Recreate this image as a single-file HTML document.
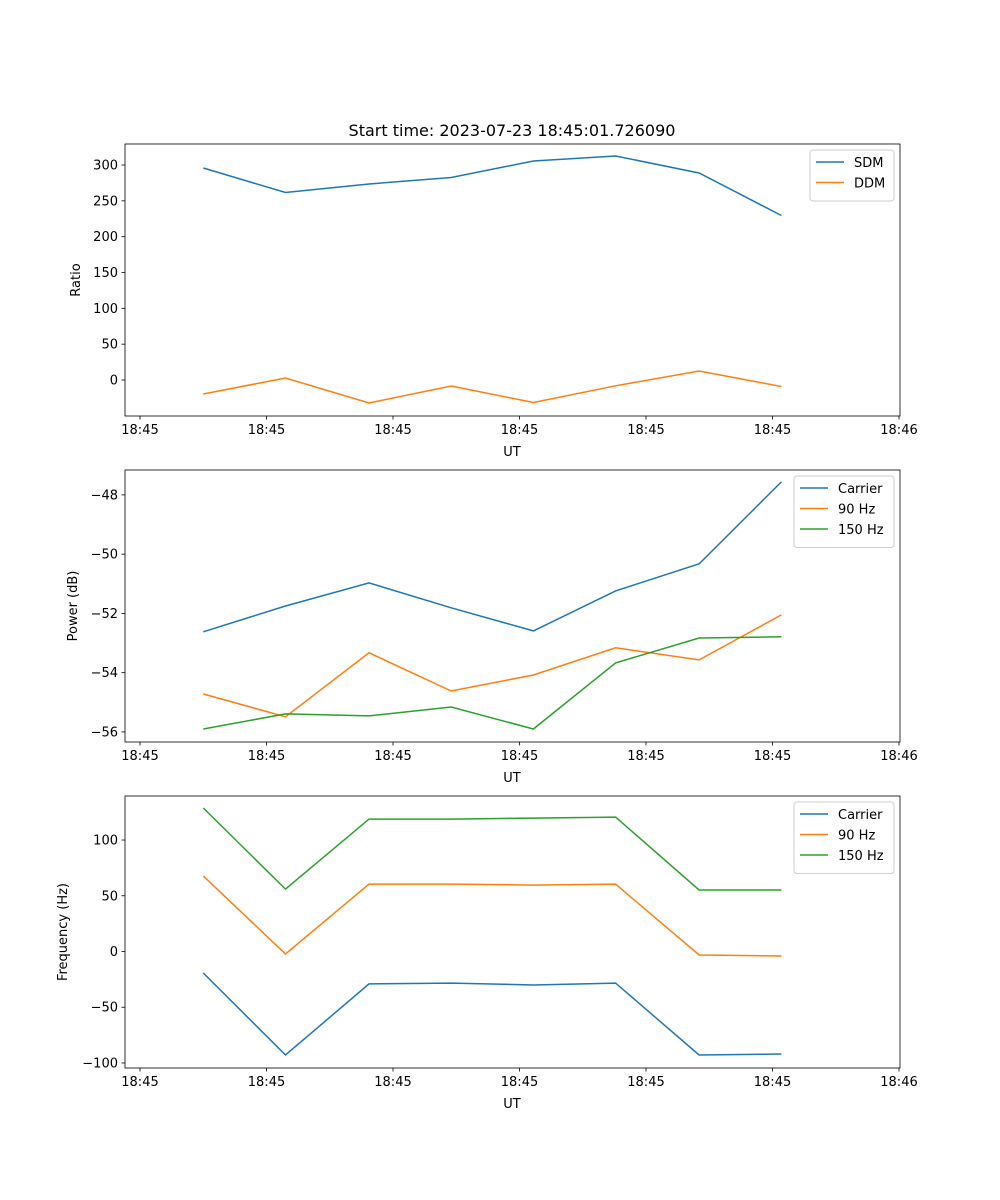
<!DOCTYPE html>
<html><head><meta charset="utf-8"><style>
body{margin:0;background:#fff}
svg{display:block;font-family:"DejaVu Sans","Liberation Sans",sans-serif}
</style></head><body>
<svg id="fig" width="1000" height="1200" viewBox="0 0 1000 1200"></svg>
<script>
const times=[5.0,11.5,18.1,24.6,31.1,37.6,44.2,50.7];
const xTicks=[0,10,20,30,40,50,60];
const xTickLabels=["18:45","18:45","18:45","18:45","18:45","18:45","18:46"];
const sdm=[295.8,261.6,273.5,282.6,305.6,312.6,288.8,229.5];
const ddm=[-19.5,2.8,-32,-8.4,-31.4,-8,12.6,-9];
const pCarrier=[-52.62,-51.75,-50.97,-51.81,-52.59,-51.24,-50.33,-47.56];
const p90=[-54.72,-55.49,-53.33,-54.62,-54.08,-53.16,-53.57,-52.05];
const p150=[-55.9,-55.39,-55.46,-55.16,-55.9,-53.67,-52.83,-52.79];
const fCarrier=[-19.3,-92.8,-29.1,-28.3,-30,-28.3,-92.8,-91.9];
const f90=[67.7,-2.2,60.5,60.5,59.6,60.5,-3.1,-4];
const f150=[128.7,56,118.8,118.8,119.7,120.6,55.2,55.2];
const ratioTicks=[0,50,100,150,200,250,300];
const powerTicks=[-56,-54,-52,-50,-48];
const powerTickLabels=["\u221256","\u221254","\u221252","\u221250","\u221248"];
const freqTicks=[-100,-50,0,50,100];
const freqTickLabels=["\u2212100","\u221250","0","50","100"];
const C=["#1f77b4","#ff7f0e","#2ca02c"];
const NS="http://www.w3.org/2000/svg";
const svg=document.getElementById("fig");
function el(t,a,p){const e=document.createElementNS(NS,t);for(const k in a)e.setAttribute(k,a[k]);(p||svg).appendChild(e);return e;}
const L=125,R=900;
function xs(t){return 140+(t-0)*(899-140)/60;}
function panel(name,top,bot,y0,y1,ticks,tlabels,ylabel,series,names,legend,title){
  const g=el("g",{});
  
  
  const ys=v=>top+(y1-v)*(bot-top)/(y1-y0);
  series.forEach((s,i)=>{
    const pl=el("polyline",{points:s.map((v,j)=>xs(times[j]).toFixed(1)+","+ys(v).toFixed(1)).join(" "),fill:"none",stroke:C[i],"stroke-width":1.5},g);
    
    
  });
  const fr=el("rect",{x:L,y:top,width:R-L,height:bot-top,fill:"none",stroke:"#000","stroke-width":0.8},g);
  
  
  xTicks.forEach((t,i)=>{
    const x=xs(t);
    el("line",{x1:x,x2:x,y1:bot,y2:bot+3.5,stroke:"#000","stroke-width":0.8},g);
    const tx=el("text",{x:x,y:bot+18,"text-anchor":"middle","font-size":13},g);tx.textContent=xTickLabels[i];
    
    
  });
  ticks.forEach((t,i)=>{
    const y=ys(t);
    el("line",{x1:L,x2:L-3.5,y1:y,y2:y,stroke:"#000","stroke-width":0.8},g);
    const tx=el("text",{x:L-7,y:y+4.5,"text-anchor":"end","font-size":13},g);tx.textContent=tlabels[i];
    
    
  });
  const xl=el("text",{x:512,y:bot+40,"text-anchor":"middle","font-size":13},g);xl.textContent="UT";
  
  
  const ycx=ylabel.x,ycy=(top+bot)/2;
  const yl=el("text",{x:ycx,y:ycy,"text-anchor":"middle","font-size":13,transform:`rotate(-90 ${ycx} ${ycy})`},g);yl.textContent=ylabel.t;
  
  
  if(title){const tt=el("text",{x:512,y:136,"text-anchor":"middle","font-size":16},g);tt.textContent=title;
    
    }
  const lg=el("g",{},g);
  
  
  el("rect",{x:legend.x,y:top+6,width:R-6-legend.x,height:10+names.length*20.5,rx:3,fill:"#fff",stroke:"#ccc","stroke-width":1},lg);
  names.forEach((n,i)=>{
    const y=top+18+i*20.5;
    el("line",{x1:legend.x+6,x2:legend.x+34,y1:y,y2:y,stroke:C[i],"stroke-width":1.5},lg);
    const tx=el("text",{x:legend.x+44,y:y+5,"font-size":13},lg);tx.textContent=n;
    
    
  });
}
panel("ratio",144,416,-50.2,329.3,ratioTicks,ratioTicks.map(String),{x:80,t:"Ratio"},[sdm,ddm],["SDM","DDM"],{x:810},"Start time: 2023-07-23 18:45:01.726090");
panel("power",470,742,-56.34,-47.16,powerTicks,powerTickLabels,{x:77,t:"Power (dB)"},[pCarrier,p90,p150],["Carrier","90 Hz","150 Hz"],{x:794});
panel("frequency",796,1068,-104.5,139.5,freqTicks,freqTickLabels,{x:67,t:"Frequency (Hz)"},[fCarrier,f90,f150],["Carrier","90 Hz","150 Hz"],{x:794});
</script>
</body></html>
